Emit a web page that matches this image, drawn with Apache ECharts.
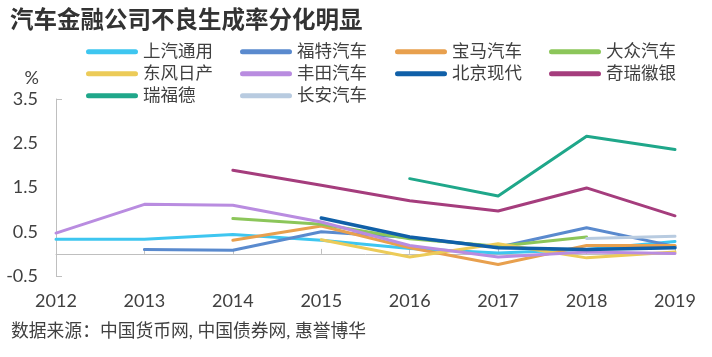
<!DOCTYPE html>
<html>
<head>
<meta charset="utf-8">
<script src="https://cdn.jsdelivr.net/npm/echarts@6/dist/echarts.min.js"></script>
<style>html,body{margin:0;padding:0;background:#fff}#c{width:712px;height:357px}</style>
</head>
<body>
<div id="c"></div>
<script>
const years = ['2012','2013','2014','2015','2016','2017','2018','2019'];
const yTickLabels = [-0.5, 0.5, 1.5, 2.5, 3.5];
const seriesNames = ['上汽通用','福特汽车','宝马汽车','大众汽车','东风日产','丰田汽车','北京现代','奇瑞徽银','瑞福德','长安汽车'];
const saic    = [0.33, 0.33, 0.44, 0.31, 0.12, 0.02, 0.10, 0.28];
const ford    = [null, 0.10, 0.08, 0.50, 0.37, 0.15, 0.59, 0.17];
const bmw     = [null, null, 0.31, 0.63, 0.14, -0.24, 0.19, 0.19];
const vw      = [null, null, 0.80, 0.67, 0.34, 0.17, 0.38, null];
const dfn     = [null, null, null, 0.32, -0.07, 0.23, -0.09, 0.04];
const toyota  = [0.47, 1.12, 1.10, 0.72, 0.19, -0.07, 0.04, 0.01];
const bhmc    = [null, null, null, 0.81, 0.38, 0.14, 0.10, 0.14];
const chery   = [null, null, 1.89, 1.55, 1.20, 0.97, 1.49, 0.86];
const rfd     = [null, null, null, null, 1.70, 1.31, 2.66, 2.36];
const changan = [null, null, null, null, null, null, 0.35, 0.40];

const seriesData = [saic, ford, bmw, vw, dfn, toyota, bhmc, chery, rfd, changan];
const colors = ['#3EC6F0','#5A8ACE','#E8A04E','#8CC65A','#ECCB58','#B98CE0','#1060A8','#A53D7D','#1FA78A','#B8CBE0'];

const FONT = 'Lato, "Noto Sans CJK SC", sans-serif';
const capsule = 'path://M2.5,0 H49.5 A2.5,2.5 0 0 1 49.5,5 H2.5 A2.5,2.5 0 0 1 2.5,0 Z';
const legendCols = [
  {left: 86, data: ['上汽通用','东风日产','瑞福德']},
  {left: 240, data: ['福特汽车','丰田汽车','长安汽车']},
  {left: 395, data: ['宝马汽车','北京现代']},
  {left: 549, data: ['大众汽车','奇瑞徽银']}
];

const chart = echarts.init(document.getElementById('c'), null, {renderer: 'canvas'});
chart.setOption({
  animation: false,
  color: colors,
  textStyle: {fontFamily: FONT},
  title: [
    {text: '汽车金融公司不良生成率分化明显', left: 10, top: 9, padding: 0,
     textStyle: {fontFamily: FONT, fontSize: 23.5, fontWeight: 'bold', color: '#333'}},
    {text: '数据来源：中国货币网, 中国债券网, 惠誉博华', left: 11, top: 322, padding: 0,
     textStyle: {fontFamily: FONT, fontSize: 17.8, fontWeight: 'normal', color: '#404040'}}
  ],
  legend: legendCols.map(c => ({
    orient: 'vertical', left: c.left, top: 43, padding: 0,
    itemWidth: 52, itemHeight: 5, itemGap: 4.5, icon: capsule,
    textStyle: {fontFamily: FONT, fontSize: 17.5, color: '#404040', lineHeight: 17},
    data: c.data
  })),
  grid: {left: 56, right: 37, top: 99, bottom: 81, containLabel: false},
  xAxis: {
    type: 'category', data: years, boundaryGap: false,
    axisLine: {onZero: true, lineStyle: {color: '#BFBFBF', width: 1}},
    axisTick: {inside: true, length: 5, lineStyle: {color: '#BFBFBF'}},
    axisLabel: {margin: 16, fontSize: 18, color: '#404040', fontFamily: FONT},
    splitLine: {show: false}
  },
  yAxis: {
    type: 'value', min: -0.5, max: 3.5,
    name: '%', nameLocation: 'end', nameGap: 12,
    nameTextStyle: {fontSize: 18, color: '#404040', align: 'right', padding: [0, 17, 0, 0], fontFamily: FONT},
    axisLine: {show: true, lineStyle: {color: '#BFBFBF', width: 1}},
    axisTick: {show: true, inside: true, length: 6, customValues: [-0.5, 3.5], lineStyle: {color: '#BFBFBF'}},
    axisLabel: {customValues: yTickLabels, margin: 18, fontSize: 18, color: '#404040', fontFamily: FONT},
    splitLine: {show: false}
  },
  series: seriesNames.map((n, i) => ({
    name: n, type: 'line', data: seriesData[i], showSymbol: false, symbol: 'none',
    connectNulls: false,
    lineStyle: {width: n === '北京现代' ? 3.5 : 3, color: colors[i], cap: 'round', join: 'round'},
    itemStyle: {color: colors[i]},
    z: 2 + i
  }))
});
</script>
</body>
</html>
